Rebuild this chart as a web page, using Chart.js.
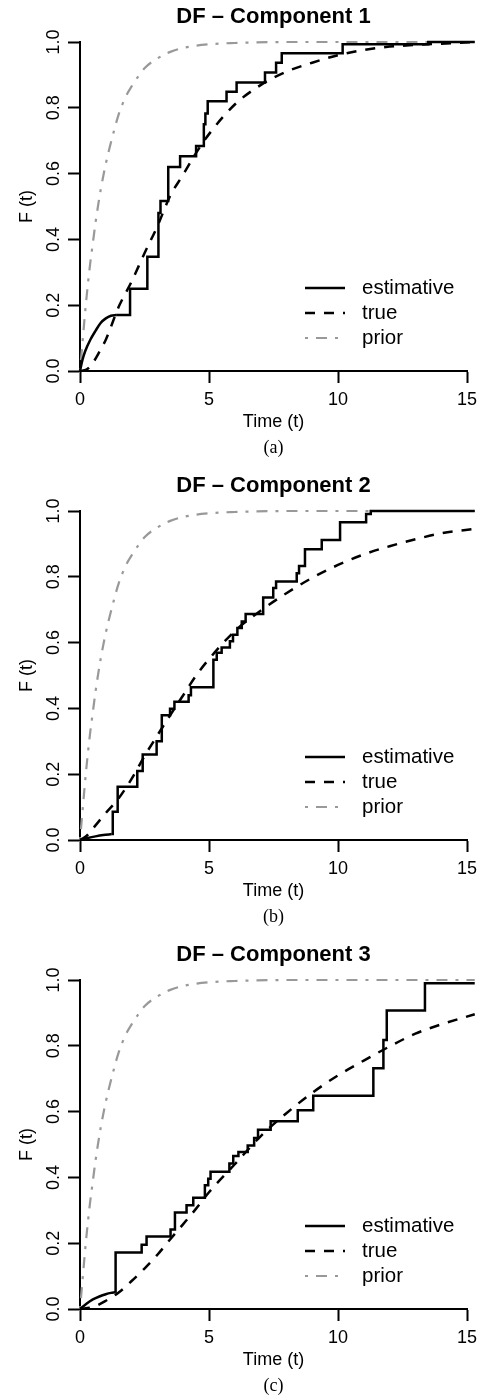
<!DOCTYPE html>
<html>
<head>
<meta charset="utf-8">
<script src="https://cdn.jsdelivr.net/npm/chart.js@4.4.1/dist/chart.umd.min.js"></script>
<style>
  body { margin: 0; background: #fff; width: 486px; height: 1395px; position: relative; overflow: hidden; }
  canvas { position: absolute; left: 0; }
</style>
</head>
<body>
<canvas id="c1" width="486" height="457" style="top:0px"></canvas>
<canvas id="c2" width="486" height="457" style="top:469px"></canvas>
<canvas id="c3" width="486" height="457" style="top:938px"></canvas>
<script>
// axis ticks
const xTicks = [0, 5, 10, 15];
const yTicks = [0, 0.2, 0.4, 0.6, 0.8, 1.0];
const tEnd = 15.3;

// prior (same in all panels)
const priorT = [0, 0.1, 0.2, 0.3, 0.4, 0.5, 0.6, 0.8, 1, 1.25, 1.5, 1.75, 2, 2.5, 3, 3.5, 4, 5, 6, 8, 15.3];
const priorF = [0, 0.09, 0.18, 0.26, 0.33, 0.39, 0.45, 0.55, 0.63, 0.71, 0.78, 0.83, 0.865, 0.92, 0.95, 0.97, 0.982, 0.993, 0.997, 1.0, 1.0];

// component 1
const est1CurveT = [0, 0.1, 0.2, 0.4, 0.6, 0.8, 1.0, 1.2, 1.4];
const est1CurveF = [0, 0.035, 0.06, 0.095, 0.122, 0.146, 0.16, 0.168, 0.17];
const est1JumpT = [1.94, 2.61, 3.04, 3.12, 3.42, 3.88, 4.5, 4.8, 4.86, 4.95, 5.68, 6.07, 7.17, 7.6, 7.82, 10.18, 13.5];
const est1JumpF = [0.25, 0.347, 0.48, 0.517, 0.62, 0.653, 0.684, 0.75, 0.783, 0.82, 0.849, 0.877, 0.907, 0.937, 0.966, 0.993, 1.0];
const true1T = [0, 0.25, 0.5, 0.75, 1, 1.5, 2, 2.5, 3, 3.5, 4, 4.5, 5, 6, 7, 8, 9, 10, 11, 12, 13, 15.3];
const true1F = [0, 0.004, 0.025, 0.058, 0.095, 0.195, 0.272, 0.358, 0.44, 0.533, 0.597, 0.663, 0.72, 0.81, 0.869, 0.91, 0.937, 0.96, 0.976, 0.986, 0.991, 1.0];

// component 2
const est2CurveT = [0, 0.3, 0.6, 0.9, 1.23];
const est2CurveF = [0, 0.006, 0.011, 0.015, 0.018];
const est2JumpT = [1.27, 1.46, 2.22, 2.43, 2.97, 3.17, 3.49, 3.66, 4.21, 4.3, 5.17, 5.3, 5.49, 5.81, 5.93, 6.1, 6.27, 6.42, 7.1, 7.49, 7.6, 8.4, 8.49, 8.72, 9.37, 10.08, 11.09, 11.27];
const est2JumpF = [0.086, 0.162, 0.21, 0.26, 0.30, 0.379, 0.399, 0.42, 0.44, 0.464, 0.548, 0.569, 0.585, 0.604, 0.624, 0.644, 0.664, 0.687, 0.737, 0.766, 0.786, 0.811, 0.833, 0.884, 0.912, 0.966, 0.991, 1.0];
const true2T = [0, 0.25, 0.5, 1, 1.5, 2, 2.5, 3, 3.5, 4, 4.5, 5, 6, 7, 8, 9, 10, 11, 12, 13, 14, 15.3];
const true2F = [0, 0.012, 0.035, 0.082, 0.127, 0.186, 0.255, 0.318, 0.38, 0.44, 0.5, 0.55, 0.635, 0.697, 0.75, 0.797, 0.836, 0.868, 0.893, 0.914, 0.932, 0.946];

// component 3
const est3CurveT = [0, 0.25, 0.5, 0.75, 1.0, 1.2, 1.36];
const est3CurveF = [0, 0.016, 0.029, 0.038, 0.045, 0.049, 0.051];
const est3JumpT = [1.38, 2.39, 2.58, 3.51, 3.68, 4.13, 4.39, 4.84, 4.97, 5.06, 5.79, 5.94, 6.14, 6.5, 6.75, 6.9, 7.39, 8.44, 9.04, 11.37, 11.76, 11.89, 13.37];
const est3JumpF = [0.172, 0.195, 0.22, 0.242, 0.293, 0.315, 0.338, 0.376, 0.396, 0.417, 0.442, 0.465, 0.477, 0.497, 0.52, 0.545, 0.571, 0.604, 0.648, 0.732, 0.818, 0.907, 0.99];
const true3T = [0, 0.5, 1, 1.5, 2, 2.5, 3, 3.5, 4, 4.5, 5, 6, 7, 8, 9, 10, 11, 12, 13, 14, 15.3];
const true3F = [0, 0.006, 0.025, 0.05, 0.085, 0.123, 0.165, 0.212, 0.258, 0.305, 0.355, 0.44, 0.525, 0.595, 0.657, 0.71, 0.755, 0.798, 0.837, 0.865, 0.896];

Chart.defaults.font.family = "'Liberation Sans', Arial, sans-serif";
Chart.defaults.color = "#000";

function pts(xs, ys) {
  return xs.map((x, i) => ({ x: x, y: ys[i] }));
}

// right-continuous step function, starting where the smooth part ends
function stepPts(t0, f0, jumpT, jumpF) {
  const out = [{ x: t0, y: f0 }];
  let prev = f0;
  jumpT.forEach((t, i) => {
    out.push({ x: t, y: prev });
    out.push({ x: t, y: jumpF[i] });
    prev = jumpF[i];
  });
  out.push({ x: tEnd, y: prev });
  return out;
}

// R-style legend inside the plot
const rLegend = {
  id: "rLegend",
  afterDraw(chart) {
    const ctx = chart.ctx, a = chart.chartArea;
    chart.data.datasets.filter(d => d.label).forEach((d, i) => {
      const y = a.top + 246 + i * 25;
      ctx.save();
      ctx.strokeStyle = d.borderColor;
      ctx.lineWidth = d.borderWidth;
      ctx.setLineDash(d.borderDash || []);
      ctx.beginPath();
      ctx.moveTo(a.left + 225, y);
      ctx.lineTo(a.left + 265, y);
      ctx.stroke();
      ctx.setLineDash([]);
      ctx.fillStyle = "#000";
      ctx.font = "20.5px 'Liberation Sans', Arial, sans-serif";
      ctx.textBaseline = "middle";
      ctx.fillText(d.label, a.left + 282, y);
      ctx.restore();
    });
  }
};

const axisGrid = { drawOnChartArea: false, tickLength: 12, tickWidth: 2, tickColor: "#000" };
const axisBorder = { color: "#000", width: 2 };

function makePanel(id, title, caption, curveT, curveF, jumpT, jumpF, trueT, trueF) {
  const est = {
    label: "estimative",
    data: stepPts(curveT[curveT.length - 1], curveF[curveF.length - 1], jumpT, jumpF),
    borderColor: "#000", borderWidth: 2.5, borderDash: [], tension: 0
  };
  const estLead = {
    data: pts(curveT, curveF),
    borderColor: "#000", borderWidth: 2.5, cubicInterpolationMode: "monotone"
  };
  const tru = {
    label: "true",
    data: pts(trueT, trueF),
    borderColor: "#000", borderWidth: 2.5, borderDash: [10, 9], cubicInterpolationMode: "monotone"
  };
  const pri = {
    label: "prior",
    data: pts(priorT, priorF),
    borderColor: "#999999", borderWidth: 2.2, borderDash: [3, 8, 11, 8], cubicInterpolationMode: "monotone"
  };
  [est, estLead, tru, pri].forEach(d => { d.showLine = true; d.pointRadius = 0; d.clip = false; d.fill = false; });

  return new Chart(document.getElementById(id), {
    type: "scatter",
    data: { datasets: [est, estLead, tru, pri] },
    plugins: [rLegend],
    options: {
      responsive: false,
      animation: false,
      devicePixelRatio: 1,
      layout: { padding: { left: 0, right: 19, top: 0, bottom: 0 } },
      scales: {
        x: {
          type: "linear", min: 0, max: 15,
          afterFit: s => { s.height = 68; },
          afterBuildTicks: s => { s.ticks = xTicks.map(v => ({ value: v })); },
          ticks: { maxRotation: 0, padding: 6, font: { size: 18 } },
          grid: axisGrid,
          border: axisBorder,
          title: { display: true, text: "Time (t)", font: { size: 18 }, padding: { top: 0, bottom: 6 } }
        },
        y: {
          type: "linear", min: 0, max: 1,
          afterFit: s => { s.width = 80; },
          afterBuildTicks: s => { s.ticks = yTicks.map(v => ({ value: v })); },
          ticks: {
            minRotation: 90, maxRotation: 90, crossAlign: "center", padding: 1,
            font: { size: 18 }, callback: v => v.toFixed(1)
          },
          grid: axisGrid,
          border: axisBorder,
          title: { display: true, text: "F (t)", font: { size: 18 }, padding: { top: 16, bottom: 0 } }
        }
      },
      plugins: {
        legend: { display: false },
        tooltip: { enabled: false },
        title: {
          display: true, text: title, fullSize: false,
          font: { size: 22, weight: "bold" }, padding: { top: 4, bottom: 11.6 }
        },
        subtitle: {
          display: true, position: "bottom", text: caption, fullSize: false,
          font: { family: "'Liberation Serif', 'Times New Roman', serif", size: 18, lineHeight: 1 },
          padding: 0
        }
      }
    }
  });
}

makePanel("c1", "DF \u2013 Component 1", "(a)", est1CurveT, est1CurveF, est1JumpT, est1JumpF, true1T, true1F);
makePanel("c2", "DF \u2013 Component 2", "(b)", est2CurveT, est2CurveF, est2JumpT, est2JumpF, true2T, true2F);
makePanel("c3", "DF \u2013 Component 3", "(c)", est3CurveT, est3CurveF, est3JumpT, est3JumpF, true3T, true3F);
</script>
</body>
</html>
